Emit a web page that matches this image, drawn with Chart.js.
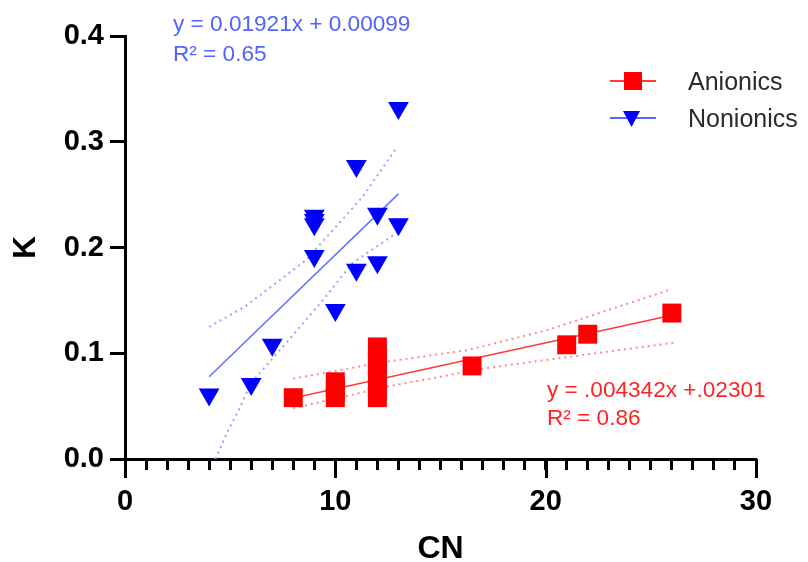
<!DOCTYPE html>
<html>
<head>
<meta charset="utf-8">
<script src="https://cdn.jsdelivr.net/npm/chart.js@4.4.1/dist/chart.umd.min.js"></script>
<style>
  html, body { margin: 0; padding: 0; background: #fff; }
  #wrap { width: 808px; height: 562px; }
</style>
</head>
<body>
<div id="wrap"><canvas id="chart" width="808" height="562"></canvas></div>
<script>
// K against chain number (CN) for anionic and nonionic surfactants

const FONT = '"Liberation Sans", Arial, Helvetica, sans-serif';

// anionics (red squares)
const anionicCN = [8, 10, 10, 10, 10, 12, 12, 12, 12, 12, 12, 12, 16.5, 21, 22, 26];
const anionicK  = [0.058, 0.058, 0.063, 0.068, 0.073, 0.058, 0.066, 0.074, 0.082, 0.090, 0.098, 0.106, 0.088, 0.108, 0.118, 0.138];

// nonionics (blue triangles)
const nonionicCN = [4, 6, 7, 9, 9, 9, 9, 10, 11, 11, 12, 12, 13, 13];
const nonionicK  = [0.061, 0.071, 0.108, 0.192, 0.222, 0.226, 0.230, 0.141, 0.179, 0.277, 0.186, 0.232, 0.222, 0.332];

// linear fits as printed on the chart
const anionicSlope = 0.004342, anionicIntercept = 0.02301;
const anionicRange = [8, 26];
const nonionicSlope = 0.01921, nonionicIntercept = 0.00099;
const nonionicRange = [4, 13];

// dotted confidence bands
const anionicUpperCN = [8, 12.1, 16.3, 20.1, 25.9];
const anionicUpperK  = [0.076, 0.091, 0.103, 0.122, 0.160];
const anionicLowerCN = [8, 12.6, 17.2, 26.1];
const anionicLowerK  = [0.048, 0.069, 0.086, 0.110];
const nonionicUpperCN = [4.0, 5.7, 8.6, 10.0, 11.3, 12.9];
const nonionicUpperK  = [0.125, 0.144, 0.188, 0.219, 0.248, 0.294];
const nonionicLowerCN = [4.3, 4.9, 5.4, 6.0, 7.5, 9.4, 10.8, 13.0];
const nonionicLowerK  = [0.0, 0.027, 0.046, 0.072, 0.106, 0.150, 0.185, 0.215];

// axis ticks
const cnMajorTicks = [0, 10, 20, 30];

// equation labels
const anionicEqText = ['y = .004342x +.02301', 'R\u00b2 = 0.86'];
const nonionicEqText = ['y = 0.01921x + 0.00099', 'R\u00b2 = 0.65'];
const seriesNames = ['Anionics', 'Nonionics'];

const RED = '#ff0000', BLUE = '#0000ff';

function pts(xs, ys) {
  return xs.map((x, i) => ({ x: x, y: ys[i] }));
}
function fitLine(slope, intercept, range) {
  return range.map(x => ({ x: x, y: slope * x + intercept }));
}

function lineSet(data, color, width, dash) {
  return {
    data: data,
    showLine: true,
    borderColor: color,
    borderWidth: width,
    borderDash: dash || [],
    pointRadius: 0,
    fill: false,
    order: 2
  };
}

// long ticks on CN axis, legend and equations
const extras = {
  id: 'extras',
  afterDraw(chart) {
    const ctx = chart.ctx;
    const xs = chart.scales.x, ys = chart.scales.y;
    ctx.save();
    ctx.strokeStyle = '#000';
    ctx.lineWidth = 3;
    cnMajorTicks.forEach(v => {
      const px = Math.round(xs.getPixelForValue(v)) + 0.5;
      ctx.beginPath();
      ctx.moveTo(px, ys.bottom);
      ctx.lineTo(px, ys.bottom + 19);
      ctx.stroke();
    });

    // legend
    const rows = [
      { y: 81, color: RED, line: '#ff3b3b', shape: 'rect' },
      { y: 118, color: BLUE, line: '#5a66ff', shape: 'tri' }
    ];
    rows.forEach((r, i) => {
      ctx.strokeStyle = r.line;
      ctx.lineWidth = 2;
      ctx.beginPath();
      ctx.moveTo(610, r.y);
      ctx.lineTo(656, r.y);
      ctx.stroke();
      ctx.fillStyle = r.color;
      ctx.beginPath();
      if (r.shape === 'rect') {
        ctx.rect(624, r.y - 9, 18, 18);
      } else {
        ctx.moveTo(623, r.y - 7);
        ctx.lineTo(640, r.y - 7);
        ctx.lineTo(631.5, r.y + 9);
        ctx.closePath();
      }
      ctx.fill();
      ctx.fillStyle = '#2b2b2b';
      ctx.font = '25px ' + FONT;
      ctx.textBaseline = 'alphabetic';
      ctx.fillText(seriesNames[i], 688, r.y + 9);
    });

    // fit equations
    ctx.font = '22.6px ' + FONT;
    ctx.fillStyle = '#5263ff';
    ctx.fillText(nonionicEqText[0], 173, 31);
    ctx.fillText(nonionicEqText[1], 173, 61);
    ctx.fillStyle = '#ff2424';
    ctx.fillText(anionicEqText[0], 547, 397);
    ctx.fillText(anionicEqText[1], 547, 425);
    ctx.restore();
  }
};

new Chart(document.getElementById('chart'), {
  type: 'scatter',
  data: {
    datasets: [
      {
        label: seriesNames[0],
        data: pts(anionicCN, anionicK),
        pointStyle: 'rect',
        pointRadius: 13.4,
        pointHoverRadius: 13.4,
        backgroundColor: RED,
        borderWidth: 0,
        order: 0
      },
      {
        label: seriesNames[1],
        data: pts(nonionicCN, nonionicK),
        pointStyle: 'triangle',
        pointRotation: 180,
        pointRadius: 12,
        pointHoverRadius: 12,
        backgroundColor: BLUE,
        borderWidth: 0,
        order: 0
      },
      lineSet(fitLine(anionicSlope, anionicIntercept, anionicRange), '#ff3b3b', 1.5),
      lineSet(pts(anionicUpperCN, anionicUpperK), '#ff8a8a', 2, [2, 4]),
      lineSet(pts(anionicLowerCN, anionicLowerK), '#ff8a8a', 2, [2, 4]),
      lineSet(fitLine(nonionicSlope, nonionicIntercept, nonionicRange), '#6270ff', 1.5),
      lineSet(pts(nonionicUpperCN, nonionicUpperK), '#9aa2ff', 2, [2, 4]),
      lineSet(pts(nonionicLowerCN, nonionicLowerK), '#9aa2ff', 2, [2, 4])
    ]
  },
  options: {
    responsive: false,
    devicePixelRatio: 1,
    animation: false,
    events: [],
    layout: { padding: { top: 36, right: 52, bottom: 0, left: 0 } },
    plugins: {
      legend: { display: false },
      tooltip: { enabled: false }
    },
    scales: {
      x: {
        type: 'linear',
        position: 'bottom',
        min: 0,
        max: 30,
        border: { color: '#000', width: 3 },
        grid: { drawOnChartArea: false, tickLength: 11, tickWidth: 3, tickColor: '#000' },
        ticks: {
          stepSize: 1,
          autoSkip: false,
          maxRotation: 0,
          padding: 15,
          color: '#000',
          font: { family: FONT, size: 29, weight: 'bold' },
          callback: v => (v % 10 === 0 ? String(v) : '')
        },
        title: {
          display: true,
          text: 'CN',
          color: '#000',
          font: { family: FONT, size: 32, weight: 'bold', lineHeight: 1 },
          padding: { top: 0, bottom: -3 }
        },
        afterFit: s => { s.height = 103; }
      },
      y: {
        type: 'linear',
        min: 0,
        max: 0.4,
        border: { color: '#000', width: 3 },
        grid: { drawOnChartArea: false, tickLength: 15, tickWidth: 3, tickColor: '#000' },
        ticks: {
          stepSize: 0.1,
          padding: 6,
          color: '#000',
          font: { family: FONT, size: 29, weight: 'bold' },
          callback: v => v.toFixed(1)
        },
        title: {
          display: true,
          text: 'K',
          color: '#000',
          font: { family: FONT, size: 32, weight: 'bold', lineHeight: 1 },
          padding: { top: 10, bottom: 0 }
        },
        afterFit: s => { s.width = 125; }
      }
    }
  },
  plugins: [extras]
});
</script>
</body>
</html>
